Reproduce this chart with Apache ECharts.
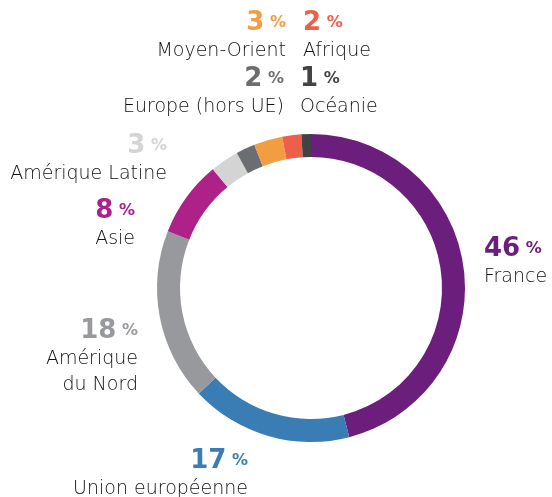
<!DOCTYPE html>
<html>
<head>
<meta charset="utf-8">
<script src="https://cdn.jsdelivr.net/npm/echarts@6/dist/echarts.min.js"></script>
<style>
    html, body { margin: 0; padding: 0; background: #fff; }
    #chart { width: 552px; height: 497px; }
</style>
</head>
<body>
<div id="chart"></div>
<script>
// parts, clockwise from the top
let names = ['France', 'Union européenne', 'Amérique\ndu Nord', 'Asie', 'Amérique Latine',
    'Europe (hors UE)', 'Moyen-Orient', 'Afrique', 'Océanie'];
let values = [46, 17, 18, 8, 3, 2, 3, 2, 1];
let colors = ['#6b1e7c', '#3a7db4', '#98999d', '#ad2189', '#d4d4d5',
    '#6c6d70', '#f29d3f', '#ee5f4b', '#434345'];

// where each label sits (anchor point, alignment)
let labelPos = [
    [484, 234, 'left'],
    [248, 446, 'right'],
    [138, 316, 'right'],
    [135, 196, 'right'],
    [167, 131, 'right'],
    [284, 64, 'right'],
    [286, 8, 'right'],
    [303, 8, 'left'],
    [300, 64, 'left']
];

let chart = echarts.init(document.getElementById('chart'));

let data = names.map(function (name, i) {
    let al = labelPos[i][2];
    return {
        name: name,
        value: values[i],
        itemStyle: {color: colors[i]},
        label: {
            align: al,
            rich: {
                v: {color: colors[i], fontSize: 26, fontWeight: 'bold', lineHeight: 30, fontFamily: 'DejaVu Sans', align: al},
                p: {color: colors[i], fontSize: 16, fontWeight: 'bold', lineHeight: 30, fontFamily: 'DejaVu Sans', align: al},
                n: {color: '#111', fontSize: 19, fontWeight: 200, lineHeight: 26, fontFamily: 'DejaVu Sans', align: al}
            }
        }
    };
});

chart.setOption({
    animation: false,
    series: [{
        type: 'pie',
        center: [311, 288],
        radius: [131, 154],
        startAngle: 90,
        clockwise: true,
        avoidLabelOverlap: false,
        labelLine: {show: false},
        label: {
            show: true,
            position: 'outside',
            formatter: function (p) {
                let lines = p.name.split('\n').map(function (s) {
                    return '{n|' + s + '}';
                });
                return '{v|' + p.value + '}{p| %}\n' + lines.join('\n');
            }
        },
        labelLayout: function (params) {
            let pos = labelPos[params.dataIndex];
            return {x: pos[0], y: pos[1], align: pos[2], verticalAlign: 'top'};
        },
        data: data
    }]
});
</script>
</body>
</html>
